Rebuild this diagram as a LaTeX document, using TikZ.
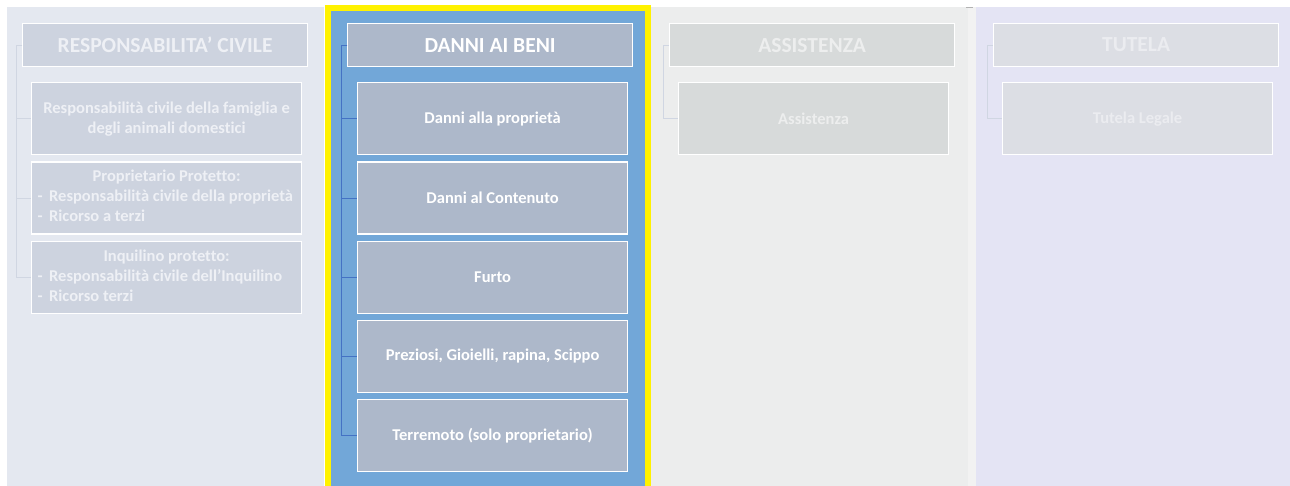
\documentclass[tikz,border=0pt]{standalone}
\usepackage{fontspec}
\setmainfont{Carlito}[Ligatures=NoCommon]
\usepackage{tikz}
\usetikzlibrary{positioning,calc}
\definecolor{rcbg}{HTML}{E4E8F0}
\definecolor{rcbox}{HTML}{CDD3DF}
\definecolor{rctxt}{HTML}{EEF0F5}
\definecolor{rcline}{HTML}{D0D6E2}
\definecolor{dbbg}{HTML}{72A7D8}
\definecolor{dbbox}{HTML}{ADB8CA}
\definecolor{dbline}{HTML}{4472C4}
\definecolor{asbg}{HTML}{ECEDED}
\definecolor{asbox}{HTML}{D7DADA}
\definecolor{astxt}{HTML}{EDEEEE}
\definecolor{tubg}{HTML}{E4E4F4}
\definecolor{tubox}{HTML}{DCDEE4}
\definecolor{tutxt}{HTML}{EBECF0}
\definecolor{gapbg}{HTML}{F2F2F2}
\newcommand{\bul}{-\hspace{6.5pt}}
\newcommand{\ttl}[1]{\multicolumn{1}{@{}c@{}}{\makebox[258pt]{#1}}}

\begin{document}
\begin{tikzpicture}[x=1pt,y=-1pt,
  hdr/.style={draw=white,line width=1.2pt,anchor=north west,minimum width=285pt,minimum height=43pt,
    font=\fontsize{21.5}{24}\selectfont\bfseries,inner sep=0pt},
  itm/.style={draw=white,line width=1.2pt,minimum width=270pt,minimum height=72pt,
    font=\fontsize{16.5}{20}\selectfont\bfseries,inner sep=0pt,align=center},
  conn/.style={line width=0.8pt}]
  \useasboundingbox (0,0) rectangle (1290,486);
  % column backgrounds
  \fill[rcbg] (7,7) rectangle (324,490);
  \fill[yellow] (325,5) rectangle (651,490);
  \fill[dbbg] (331,11) rectangle (645,490);
  \fill[asbg] (651,7) rectangle (968,490);
  \fill[gapbg] (968,7) rectangle (976,490);
  \draw[gray!60] (966,7)--(973,7);
  \fill[tubg] (976,7) rectangle (1290,490);

  % RESPONSABILITA' CIVILE
  \node[hdr,fill=rcbox,text=rctxt] (hRC) at (22,23) {RESPONSABILITA’ CIVILE};
  \node[itm,fill=rcbox,text=rctxt,below=15pt of hRC.south west,anchor=north west,xshift=9pt] (rc1)
    {Responsabilità civile della famiglia e\\degli animali domestici};
  \node[itm,fill=rcbox,text=rctxt,below=6pt of rc1] (rc2)
    {\begin{tabular}{@{}l@{}}\ttl{Proprietario Protetto:}\\
     \bul Responsabilità civile della proprietà\\ \bul Ricorso a terzi\end{tabular}};
  \node[itm,fill=rcbox,text=rctxt,below=6pt of rc2] (rc3)
    {\begin{tabular}{@{}l@{}}\ttl{Inquilino protetto:}\\
     \bul Responsabilità civile dell’Inquilino\\ \bul Ricorso terzi\end{tabular}};
  \foreach \c in {rc1,rc2,rc3}{\draw[conn,rcline] (hRC.west) -- ++(-6,0) |- (\c.west);}

  % DANNI AI BENI
  \node[hdr,fill=dbbox,text=white] (hDB) at (347,23) {DANNI AI BENI};
  \node[itm,fill=dbbox,text=white,below=15pt of hDB.south west,anchor=north west,xshift=10pt] (db1) {Danni alla proprietà};
  \node[itm,fill=dbbox,text=white,below=6pt of db1] (db2) {Danni al Contenuto};
  \node[itm,fill=dbbox,text=white,below=6pt of db2] (db3) {Furto};
  \node[itm,fill=dbbox,text=white,below=6pt of db3] (db4) {Preziosi, Gioielli, rapina, Scippo};
  \node[itm,fill=dbbox,text=white,below=6pt of db4] (db5) {Terremoto (solo proprietario)};
  \foreach \c in {db1,db2,db3,db4,db5}{\draw[conn,dbline] (hDB.west) -- ++(-6,0) |- (\c.west);}

  % ASSISTENZA
  \node[hdr,fill=asbox,text=astxt] (hAS) at (669,23) {ASSISTENZA};
  \node[itm,fill=asbox,text=astxt,below=15pt of hAS.south west,anchor=north west,xshift=9pt] (as1) {Assistenza};
  \draw[conn,rcline] (hAS.west) -- ++(-6,0) |- (as1.west);

  % TUTELA
  \node[hdr,fill=tubox,text=tutxt] (hTU) at (993,23) {TUTELA};
  \node[itm,fill=tubox,text=tutxt,below=15pt of hTU.south west,anchor=north west,xshift=9pt] (tu1) {Tutela Legale};
  \draw[conn,rcline] (hTU.west) -- ++(-6,0) |- (tu1.west);
\end{tikzpicture}
\end{document}
